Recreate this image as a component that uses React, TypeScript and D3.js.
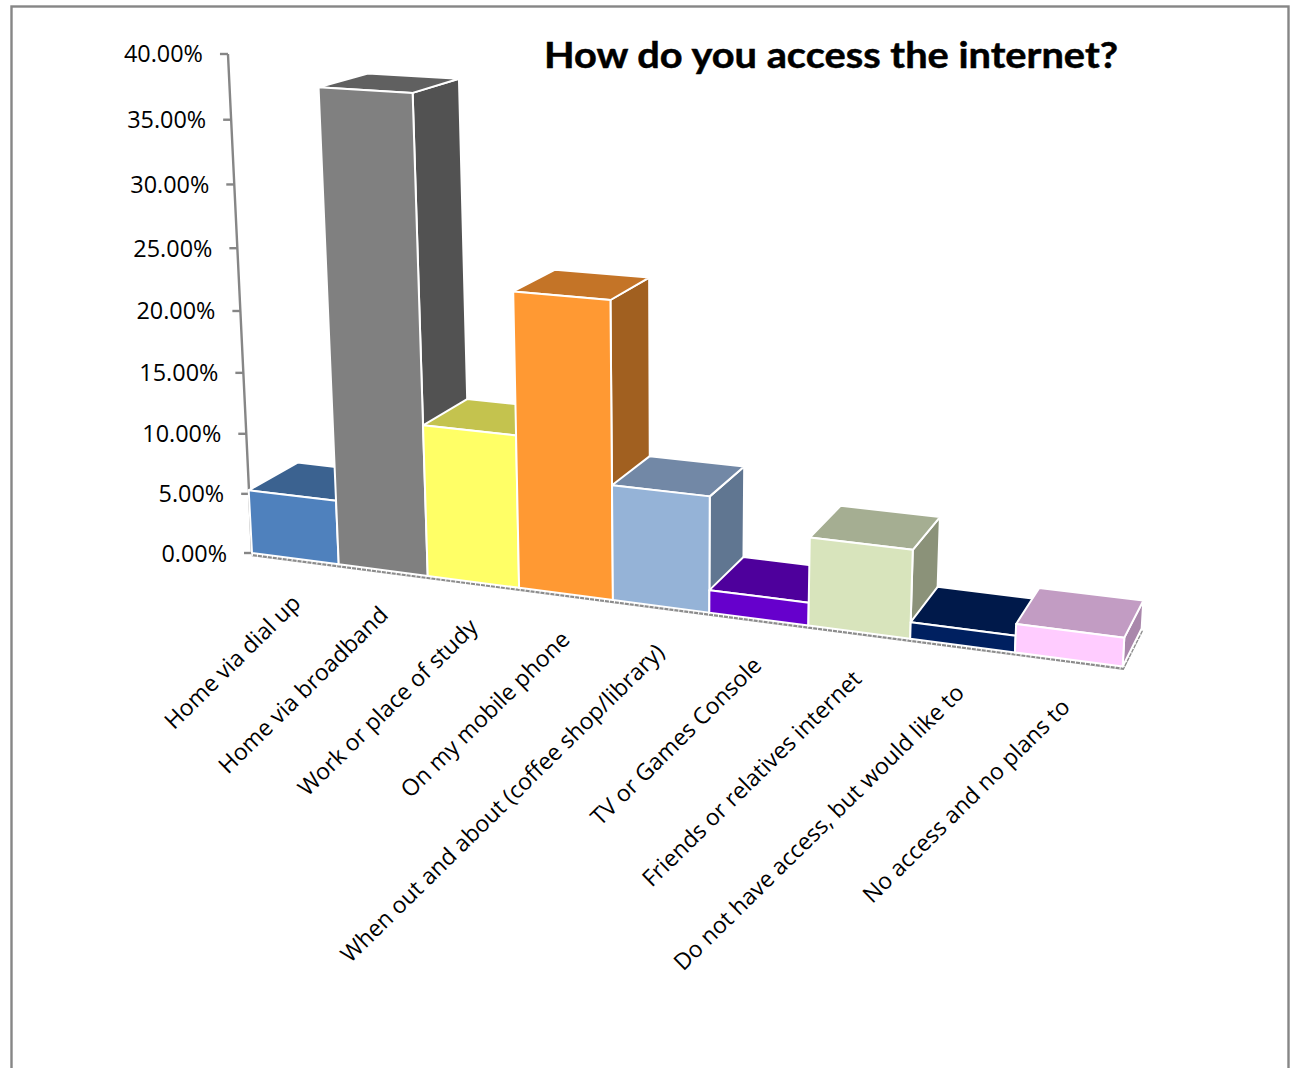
import React from "react";
import * as d3 from "d3";

const categories = [
  "Home via dial up",
  "Home via broadband",
  "Work or place of study",
  "On my mobile phone",
  "When out and about (coffee shop/library)",
  "TV or Games Console",
  "Friends or relatives internet",
  "Do not have access, but would like to",
  "No access and no plans to",
];
const shares = [5.3, 37.9, 12.3, 23.5, 9.2, 1.8, 6.9, 1.3, 2.2];
const frontColors = ["#4F81BD", "#808080", "#FFFF66", "#FF9933", "#95B3D7", "#6600CC", "#D8E4BC", "#002060", "#FFCCFF"];
const topColors = ["#3B6290", "#606060", "#C4C34E", "#C47427", "#7288A6", "#4E009C", "#A5AE92", "#00194A", "#C29CC3"];
const sideColors = ["#32537A", "#525252", "#A6A642", "#A16020", "#607691", "#420084", "#8B9279", "#00153F", "#A987AB"];
const axisMax = 40;
const tickStep = 5;
const chartTitle = "How do you access the internet?";

// Homogeneous camera: columns are category run (0..9), value (0..1), depth (0..1), origin.
const CAM = [
  [82.4, -39.6, 59.85, 252],
  [4.1, -502.16, -10, 553],
  [-0.012775, -0.05836, 0.0377, 1],
];

const catScale = d3.scaleBand<string>().domain(categories).range([0, categories.length]);
const valueScale = d3.scaleLinear().domain([0, axisMax]).range([0, 1]);
const pathOf = d3.line<[number, number]>().curve(d3.curveLinearClosed);
const pct = d3.format(".2%");
const tickValues = d3.range(0, axisMax + tickStep, tickStep);

// Rotated labels sit a little below the floor edge; the offset drifts along the run.
const labelDx = d3.scaleLinear().domain([0, categories.length - 1]).range([7, 3]);
const labelDy = d3.scaleLinear().domain([0, categories.length - 1]).range([46, 49]);

function project(run: number, value: number, depth: number): [number, number] {
  const v = valueScale(value);
  const [a, b, c] = CAM.map((r) => r[0] * run + r[1] * v + r[2] * depth + r[3]);
  return [a / c, b / c];
}

// The value axis leans slightly less than the bars do.
function axisPoint(value: number): [number, number] {
  const [x, y] = project(0, value, 0);
  return [x + valueScale(value) * 2.4, y];
}

function Bar({ name, value, i }: { name: string; value: number; i: number }) {
  const x0 = catScale(name)!;
  const x1 = x0 + catScale.bandwidth();
  const front = [project(x0, 0, 0), project(x1, 0, 0), project(x1, value, 0), project(x0, value, 0)];
  const top = [project(x0, value, 0), project(x1, value, 0), project(x1, value, 1), project(x0, value, 1)];
  const side = [project(x1, 0, 0), project(x1, 0, 1), project(x1, value, 1), project(x1, value, 0)];
  const edge = { stroke: "#fff", strokeWidth: 2, strokeLinejoin: "round" as const };
  return (
    <g>
      <path d={pathOf(side)!} fill={sideColors[i]} {...edge} />
      <path d={pathOf(top)!} fill={topColors[i]} {...edge} />
      <path d={pathOf(front)!} fill={frontColors[i]} {...edge} />
    </g>
  );
}

export default function App() {
  const n = categories.length;
  const baseA = project(0, 0, 0);
  const baseB = project(n, 0, 0);
  const baseC = project(n, 0, 1);
  const floorPts = [baseA, baseB, baseC].map((p) => p.join(",")).join(" ");
  const labelFont = "'Open Sans', sans-serif";
  return (
    <svg
      width={1293}
      height={1068}
      style={{ position: "absolute", left: 0, top: 0, background: "#fff" }}
    >
      <rect x={11.5} y={6.5} width={1277} height={1100} fill="none" stroke="#868686" strokeWidth={2.4} />
      <text
        x={544}
        y={68}
        textLength={574}
        lengthAdjust="spacingAndGlyphs"
        fontFamily="Lato, sans-serif"
        fontWeight={700}
        fontSize={37}
        fill="#000"
        stroke="#000"
        strokeWidth={0.5}
      >
        {chartTitle}
      </text>

      <polyline points={tickValues.map((t) => axisPoint(t).join(",")).join(" ")} fill="none" stroke="#868686" strokeWidth={2.4} />
      {tickValues.map((t) => {
        const [x, y] = axisPoint(t);
        return (
          <g key={t}>
            <line x1={x - 8} x2={x} y1={y} y2={y} stroke="#868686" strokeWidth={2.4} />
            <text x={x - 25} y={y + 8.5} textAnchor="end" fontFamily={labelFont} fontSize={23.4} fill="#000">
              {pct(t / 100)}
            </text>
          </g>
        );
      })}

      <polyline points={floorPts} fill="none" stroke="#8c8c8c" strokeWidth={3.4} transform="translate(0,1.5)" />
      <polyline points={floorPts} fill="none" stroke="#ffffff" strokeWidth={3.4} strokeDasharray="1 4" transform="translate(0,1.5)" />

      {categories.map((c, i) => (
        <Bar key={c} name={c} value={shares[i]} i={i} />
      ))}

      {categories.map((c, i) => {
        const [x, y] = project(catScale(c)! + catScale.bandwidth() / 2, 0, 0);
        return (
          <text
            key={c}
            transform={`translate(${x + labelDx(i)},${y + labelDy(i)}) rotate(-44.5)`}
            textAnchor="end"
            fontFamily={labelFont}
            fontSize={23}
            fill="#000"
          >
            {c}
          </text>
        );
      })}
    </svg>
  );
}
